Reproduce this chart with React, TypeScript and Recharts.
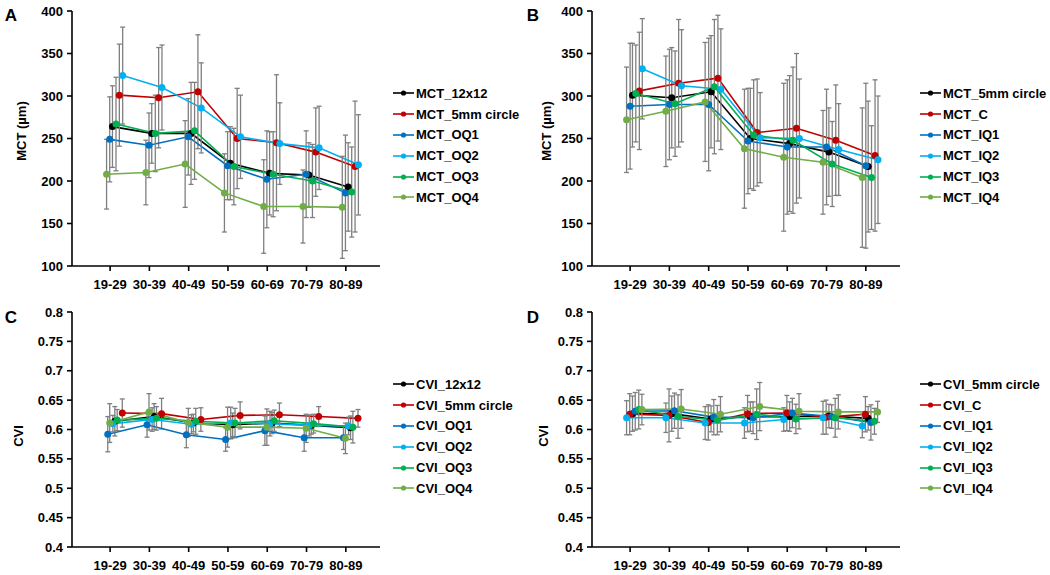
import { ComposedChart, Line, XAxis, YAxis, ErrorBar } from 'recharts';

const ageGroups = ['19-29', '30-39', '40-49', '50-59', '60-69', '70-79', '80-89'];
const ageTicks = [1, 2, 3, 4, 5, 6, 7];
const mctTicks = [100, 150, 200, 250, 300, 350, 400];
const cviTicks = [0.4, 0.45, 0.5, 0.55, 0.6, 0.65, 0.7, 0.75, 0.8];

// A: MCT, outer quadrants
const mctA12x12 = [264, 256, 256, 221, 209, 207, 193];
const mctA12x12Sd = [48, 35, 60, 43, 49, 38, 52];
const mctA5mm = [301, 298, 305, 250, 245, 234, 217];
const mctA5mmSd = [60, 59, 67, 59, 80, 52, 77];
const mctOQ1 = [249, 242, 252, 218, 202, 208, 186];
const mctOQ1Sd = [50, 38, 45, 40, 57, 51, 68];
const mctOQ2 = [324, 310, 286, 252, 244, 239, 219];
const mctOQ2Sd = [57, 50, 53, 49, 48, 49, 59];
const mctOQ3 = [267, 256, 259, 217, 208, 200, 187];
const mctOQ3Sd = [55, 45, 57, 45, 50, 43, 53];
const mctOQ4 = [208, 210, 220, 186, 170, 170, 169];
const mctOQ4Sd = [41, 38, 51, 46, 55, 43, 60];

// B: MCT, inner quadrants
const mctB5mm = [301, 298, 305, 250, 244, 234, 217];
const mctB5mmSd = [61, 59, 66, 59, 80, 52, 77];
const mctC = [306, 315, 321, 257, 262, 248, 230];
const mctCSd = [69, 75, 74, 63, 88, 65, 89];
const mctIQ1 = [288, 290, 290, 247, 240, 240, 218];
const mctIQ1Sd = [74, 65, 78, 62, 79, 68, 97];
const mctIQ2 = [332, 312, 308, 251, 250, 237, 225];
const mctIQ2Sd = [59, 66, 71, 53, 70, 54, 75];
const mctIQ3 = [303, 291, 311, 254, 248, 220, 204];
const mctIQ3Sd = [57, 62, 79, 65, 86, 50, 61];
const mctIQ4 = [272, 282, 293, 238, 228, 222, 204];
const mctIQ4Sd = [62, 65, 70, 70, 87, 61, 82];

// C: CVI, outer quadrants
const cviC12x12 = [0.614, 0.622, 0.611, 0.608, 0.611, 0.607, 0.603];
const cviC12x12Sd = [0.025, 0.022, 0.015, 0.02, 0.018, 0.015, 0.02];
const cviC5mm = [0.628, 0.627, 0.617, 0.624, 0.625, 0.622, 0.619];
const cviC5mmSd = [0.024, 0.026, 0.02, 0.023, 0.02, 0.017, 0.015];
const cviOQ1 = [0.592, 0.608, 0.591, 0.583, 0.598, 0.586, 0.586];
const cviOQ1Sd = [0.03, 0.021, 0.022, 0.02, 0.025, 0.023, 0.02];
const cviOQ2 = [0.61, 0.617, 0.609, 0.611, 0.61, 0.607, 0.606];
const cviOQ2Sd = [0.014, 0.02, 0.016, 0.027, 0.021, 0.018, 0.015];
const cviOQ3 = [0.616, 0.619, 0.614, 0.611, 0.615, 0.61, 0.604];
const cviOQ3Sd = [0.018, 0.02, 0.022, 0.025, 0.018, 0.016, 0.027];
const cviOQ4 = [0.611, 0.63, 0.612, 0.604, 0.604, 0.602, 0.585];
const cviOQ4Sd = [0.033, 0.031, 0.024, 0.034, 0.031, 0.024, 0.026];

// D: CVI, inner quadrants
const cviD5mm = [0.627, 0.627, 0.618, 0.622, 0.622, 0.623, 0.619];
const cviD5mmSd = [0.03, 0.03, 0.022, 0.025, 0.025, 0.02, 0.02];
const cviC = [0.626, 0.624, 0.612, 0.627, 0.628, 0.621, 0.626];
const cviCSd = [0.035, 0.045, 0.03, 0.031, 0.03, 0.029, 0.03];
const cviIQ1 = [0.631, 0.632, 0.621, 0.62, 0.628, 0.622, 0.612];
const cviIQ1Sd = [0.032, 0.03, 0.03, 0.027, 0.025, 0.02, 0.03];
const cviIQ2 = [0.62, 0.62, 0.611, 0.611, 0.617, 0.62, 0.606];
const cviIQ2Sd = [0.029, 0.025, 0.028, 0.026, 0.02, 0.028, 0.02];
const cviIQ3 = [0.634, 0.622, 0.616, 0.626, 0.618, 0.62, 0.614];
const cviIQ3Sd = [0.033, 0.037, 0.025, 0.043, 0.025, 0.033, 0.022];
const cviIQ4 = [0.634, 0.635, 0.626, 0.639, 0.631, 0.63, 0.63];
const cviIQ4Sd = [0.026, 0.033, 0.03, 0.041, 0.03, 0.029, 0.018];

const BLACK = '#000000';
const RED = '#c00000';
const BLUE = '#0070c0';
const CYAN = '#00b0f0';
const GREEN = '#00b050';
const OLIVE = '#70ad47';

const FONT = '"Liberation Sans", Arial, sans-serif';

type Series = { name: string; color: string; values: number[]; sd: number[]; shift: number };

const panelA: Series[] = [
  { name: 'MCT_12x12', color: BLACK, values: mctA12x12, sd: mctA12x12Sd, shift: 0.06 },
  { name: 'MCT_5mm circle', color: RED, values: mctA5mm, sd: mctA5mmSd, shift: 0.235 },
  { name: 'MCT_OQ1', color: BLUE, values: mctOQ1, sd: mctOQ1Sd, shift: -0.01 },
  { name: 'MCT_OQ2', color: CYAN, values: mctOQ2, sd: mctOQ2Sd, shift: 0.32 },
  { name: 'MCT_OQ3', color: GREEN, values: mctOQ3, sd: mctOQ3Sd, shift: 0.15 },
  { name: 'MCT_OQ4', color: OLIVE, values: mctOQ4, sd: mctOQ4Sd, shift: -0.09 },
];

const panelB: Series[] = [
  { name: 'MCT_5mm circle', color: BLACK, values: mctB5mm, sd: mctB5mmSd, shift: 0.06 },
  { name: 'MCT_C', color: RED, values: mctC, sd: mctCSd, shift: 0.235 },
  { name: 'MCT_IQ1', color: BLUE, values: mctIQ1, sd: mctIQ1Sd, shift: 0 },
  { name: 'MCT_IQ2', color: CYAN, values: mctIQ2, sd: mctIQ2Sd, shift: 0.31 },
  { name: 'MCT_IQ3', color: GREEN, values: mctIQ3, sd: mctIQ3Sd, shift: 0.145 },
  { name: 'MCT_IQ4', color: OLIVE, values: mctIQ4, sd: mctIQ4Sd, shift: -0.09 },
];

const panelC: Series[] = [
  { name: 'CVI_12x12', color: BLACK, values: cviC12x12, sd: cviC12x12Sd, shift: 0.12 },
  { name: 'CVI_5mm circle', color: RED, values: cviC5mm, sd: cviC5mmSd, shift: 0.31 },
  { name: 'CVI_OQ1', color: BLUE, values: cviOQ1, sd: cviOQ1Sd, shift: -0.06 },
  { name: 'CVI_OQ2', color: CYAN, values: cviOQ2, sd: cviOQ2Sd, shift: 0.07 },
  { name: 'CVI_OQ3', color: GREEN, values: cviOQ3, sd: cviOQ3Sd, shift: 0.18 },
  { name: 'CVI_OQ4', color: OLIVE, values: cviOQ4, sd: cviOQ4Sd, shift: -0.01 },
];

const panelD: Series[] = [
  { name: 'CVI_5mm circle', color: BLACK, values: cviD5mm, sd: cviD5mmSd, shift: 0.06 },
  { name: 'CVI_C', color: RED, values: cviC, sd: cviCSd, shift: -0.01 },
  { name: 'CVI_IQ1', color: BLUE, values: cviIQ1, sd: cviIQ1Sd, shift: 0.13 },
  { name: 'CVI_IQ2', color: CYAN, values: cviIQ2, sd: cviIQ2Sd, shift: -0.09 },
  { name: 'CVI_IQ3', color: GREEN, values: cviIQ3, sd: cviIQ3Sd, shift: 0.22 },
  { name: 'CVI_IQ4', color: OLIVE, values: cviIQ4, sd: cviIQ4Sd, shift: 0.3 },
];

const toPoints = (s: Series) =>
  s.values.map((y, i) => ({ x: i + 1 + s.shift, y, sd: s.sd[i] }));

const tickStyle = { fill: '#000', fontSize: 13, fontWeight: 'bold', fontFamily: FONT };
const axisStroke = { stroke: '#000', strokeWidth: 1.6 };

function Panel({ series, ticks, domain, height, marginTop, marginBottom }: {
  series: Series[]; ticks: number[]; domain: [number, number];
  height: number; marginTop: number; marginBottom: number;
}) {
  return (
    <ComposedChart width={390} height={height}
      margin={{ top: marginTop, right: 10, bottom: marginBottom, left: 22 }}>
      <XAxis type="number" dataKey="x" domain={[0.03, 7.87]} ticks={ageTicks} interval={0}
        allowDataOverflow tickFormatter={(v: number) => ageGroups[v - 1]}
        tick={tickStyle} axisLine={axisStroke} tickLine={axisStroke}
        tickSize={5} tickMargin={9} height={24} />
      <YAxis type="number" domain={domain} ticks={ticks} interval={0} allowDataOverflow
        tick={tickStyle} axisLine={axisStroke} tickLine={axisStroke}
        tickSize={5} tickMargin={4} width={50} />
      {series.map((s) => (
        <Line key={s.name} data={toPoints(s)} dataKey="y" name={s.name} type="linear"
          stroke={s.color} strokeWidth={1.6} isAnimationActive={false} activeDot={false}
          dot={{ r: 3.5, fill: s.color, stroke: s.color, strokeWidth: 0 }}>
          <ErrorBar dataKey="sd" direction="y" width={2.5} stroke="#7f7f7f" strokeWidth={1.3}
            isAnimationActive={false} />
        </Line>
      ))}
    </ComposedChart>
  );
}

function LegendBox({ series, left, top }: { series: Series[]; left: number; top: number }) {
  return (
    <div style={{ position: 'absolute', left, top }}>
      {series.map((s) => (
        <div key={s.name} style={{ height: 20.8, display: 'flex', alignItems: 'center' }}>
          <svg width={21} height={8} style={{ display: 'block' }}>
            <line x1={0} y1={4} x2={21} y2={4} stroke={s.color} strokeWidth={1.6} />
            <circle cx={10.5} cy={4} r={2.6} fill={s.color} />
          </svg>
          <span style={{ marginLeft: 2, fontFamily: FONT, fontWeight: 'bold', fontSize: 13, whiteSpace: 'nowrap', color: '#000' }}>
            {s.name}
          </span>
        </div>
      ))}
    </div>
  );
}

function Caption({ text, x, y, rotate, size }: { text: string; x: number; y: number; rotate?: boolean; size: number }) {
  return (
    <div style={{
      position: 'absolute', left: x, top: y, fontFamily: FONT, fontWeight: 'bold', fontSize: size,
      whiteSpace: 'nowrap', transform: `translate(-50%, -50%)${rotate ? ' rotate(-90deg)' : ''}`,
      lineHeight: 1,
    }}>
      {text}
    </div>
  );
}

export default function App() {
  return (
    <div style={{ position: 'absolute', left: 0, top: 0, width: 1050, height: 575, background: '#fff', overflow: 'hidden' }}>
      <div style={{ position: 'absolute', left: 0, top: 0 }}>
        <Panel series={panelA} ticks={mctTicks} domain={[100, 400]} height={300} marginTop={11} marginBottom={10} />
      </div>
      <div style={{ position: 'absolute', left: 520, top: 0 }}>
        <Panel series={panelB} ticks={mctTicks} domain={[100, 400]} height={300} marginTop={11} marginBottom={10} />
      </div>
      <div style={{ position: 'absolute', left: 0, top: 300 }}>
        <Panel series={panelC} ticks={cviTicks} domain={[0.4, 0.8]} height={275} marginTop={12} marginBottom={4} />
      </div>
      <div style={{ position: 'absolute', left: 520, top: 300 }}>
        <Panel series={panelD} ticks={cviTicks} domain={[0.4, 0.8]} height={275} marginTop={12} marginBottom={4} />
      </div>

      <LegendBox series={panelA} left={393} top={83} />
      <LegendBox series={panelB} left={920} top={83} />
      <LegendBox series={panelC} left={393} top={374} />
      <LegendBox series={panelD} left={920} top={374} />

      <Caption text="A" x={11} y={15} size={17} />
      <Caption text="B" x={533} y={15} size={17} />
      <Caption text="C" x={11} y={317} size={17} />
      <Caption text="D" x={533} y={317} size={17} />

      <Caption text="MCT (µm)" x={21} y={131} rotate size={13} />
      <Caption text="MCT (µm)" x={546} y={131} rotate size={13} />
      <Caption text="CVI" x={18} y={436} rotate size={13} />
      <Caption text="CVI" x={543} y={436} rotate size={13} />
    </div>
  );
}
